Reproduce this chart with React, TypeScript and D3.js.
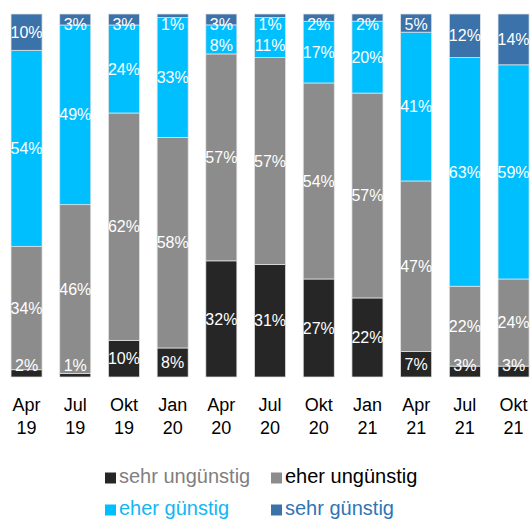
import { scaleBand, scaleLinear, stack, stackOffsetExpand } from "d3";

const periods = ["Apr 19", "Jul 19", "Okt 19", "Jan 20", "Apr 20", "Jul 20", "Okt 20", "Jan 21", "Apr 21", "Jul 21", "Okt 21"];
const seriesNames = ["sehr ungünstig", "eher ungünstig", "eher günstig", "sehr günstig"];

const sehrUnguenstig = [2, 1, 10, 8, 32, 31, 27, 22, 7, 3, 3];
const eherUnguenstig = [34, 46, 62, 58, 57, 57, 54, 57, 47, 22, 24];
const eherGuenstig = [54, 49, 24, 33, 8, 11, 17, 20, 41, 63, 59];
const sehrGuenstig = [10, 3, 3, 1, 3, 1, 2, 2, 5, 12, 14];

const barColors = ["#262626", "#8c8c8c", "#00bfff", "#3b72a9"];
const legendText = ["#7f7f7f", "#000000", "#12b6f2", "#2e75b6"];

const W = 530;
const H = 521;
const plotTop = 14;
const plotBottom = 377;

export default function App() {
  const rows = periods.map((p, i) => ({
    period: p,
    [seriesNames[0]]: sehrUnguenstig[i],
    [seriesNames[1]]: eherUnguenstig[i],
    [seriesNames[2]]: eherGuenstig[i],
    [seriesNames[3]]: sehrGuenstig[i],
  }));
  const raw = [sehrUnguenstig, eherUnguenstig, eherGuenstig, sehrGuenstig];

  const series = stack<any>().keys(seriesNames).offset(stackOffsetExpand)(rows);

  const x = scaleBand<string>()
    .domain(periods)
    .range([2.2, 537.9])
    .paddingInner(0.363)
    .paddingOuter(0.1815);
  const y = scaleLinear([0, 1], [plotBottom, plotTop]);

  // label positions: centre of segment, pushed down from the top so they don't collide
  const labels: { x: number; y: number; text: string }[] = [];
  periods.forEach((p, i) => {
    let prev = -Infinity;
    for (let s = series.length - 1; s >= 0; s--) {
      const d = series[s][i];
      let cy = (y(d[0]) + y(d[1])) / 2;
      cy = Math.max(cy, plotTop + 10, prev + 21);
      cy = Math.min(cy, plotBottom - 12);
      prev = cy;
      labels.push({ x: x(p)! + x.bandwidth() / 2, y: cy, text: `${raw[s][i]}%` });
    }
  });

  const legendItems = [
    { i: 0, x: 105, y: 483 },
    { i: 1, x: 271, y: 483 },
    { i: 2, x: 105, y: 515 },
    { i: 3, x: 271, y: 515 },
  ];

  return (
    <svg
      width={W}
      height={H}
      style={{ position: "absolute", left: 0, top: 0, background: "#fff" }}
      fontFamily="'Liberation Sans', Arial, sans-serif"
    >
      {series.map((s, si) => (
        <g key={s.key} fill={barColors[si]}>
          {s.map((d, i) => (
            <rect
              key={periods[i]}
              x={x(periods[i])}
              y={y(d[1])}
              width={x.bandwidth()}
              height={y(d[0]) - y(d[1])}
              stroke="#e3e3e3"
              strokeWidth={0.75}
            />
          ))}
        </g>
      ))}
      <g fill="#fff" fontSize={16} textAnchor="middle">
        {labels.map((l, k) => (
          <text key={k} x={l.x} y={l.y} dy="0.35em">
            {l.text}
          </text>
        ))}
      </g>
      <g fontSize={18} textAnchor="middle" fill="#000">
        {periods.map((p) => {
          const [m, yy] = p.split(" ");
          const cx = x(p)! + x.bandwidth() / 2;
          return (
            <text key={p} x={cx} y={411}>
              <tspan x={cx}>{m}</tspan>
              <tspan x={cx} y={434}>{yy}</tspan>
            </text>
          );
        })}
      </g>
      <g fontSize={20}>
        {legendItems.map((it) => (
          <g key={it.i}>
            <rect x={it.x} y={it.y - 10.5} width={11} height={11} fill={barColors[it.i]} />
            <text x={it.x + 14} y={it.y} fill={legendText[it.i]}>
              {seriesNames[it.i]}
            </text>
          </g>
        ))}
      </g>
    </svg>
  );
}
